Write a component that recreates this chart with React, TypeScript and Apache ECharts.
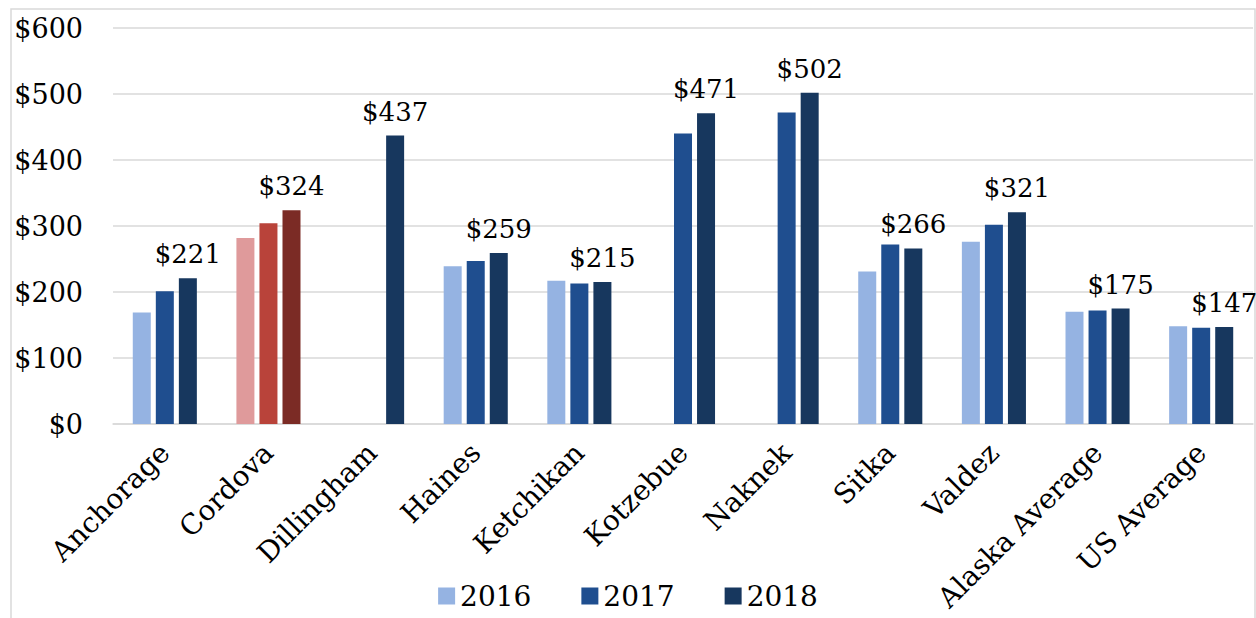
import React, { useEffect, useRef } from "react";
import * as echarts from "echarts";

const categories = ["Anchorage", "Cordova", "Dillingham", "Haines", "Ketchikan", "Kotzebue", "Naknek", "Sitka", "Valdez", "Alaska Average", "US Average"];
const seriesNames = ["2016", "2017", "2018"];
const values2016: (number | null)[] = [169, 282, null, 239, 217, null, null, 231, 276, 170, 148];
const values2017: (number | null)[] = [201, 304, null, 247, 213, 440, 472, 272, 302, 172, 146];
const values2018: (number | null)[] = [221, 324, 437, 259, 215, 471, 502, 266, 321, 175, 147];
const blueColors = ["#95b3e2", "#1f4e8f", "#17375e"];
const cordovaColors = ["#df9a9b", "#b9433a", "#7b2b25"];
const highlightCategory = "Cordova";

const FONT = "DejaVu Serif";

export default function App() {
  const ref = useRef<HTMLDivElement>(null);
  useEffect(() => {
    if (!ref.current) return;
    const chart = echarts.init(ref.current, null, { renderer: "svg" });
    const all = [values2016, values2017, values2018];
    const series = all.map((vals, si) => ({
      name: seriesNames[si],
      type: "bar",
      barWidth: 18,
      barGap: "28%",
      itemStyle: { color: blueColors[si] },
      data: vals.map((v, ci) =>
        v == null
          ? "-"
          : categories[ci] === highlightCategory
          ? { value: v, itemStyle: { color: cordovaColors[si] } }
          : v
      ),
      label: si === 2
        ? {
            show: true,
            position: "top",
            distance: 11,
            formatter: (p: any) => "$" + p.value,
            fontFamily: FONT,
            fontSize: 26,
            color: "#000",
          }
        : { show: false },
    }));
    chart.setOption({
      animation: false,
      backgroundColor: "#fff",
      grid: { left: 113, right: 3, top: 28, bottom: 194, containLabel: false },
      legend: {
        bottom: 3,
        left: "center",
        itemWidth: 17,
        itemHeight: 17,
        itemGap: 50,
        icon: "rect",
        textStyle: { fontFamily: FONT, fontSize: 28, color: "#000" },
        data: seriesNames,
      },
      xAxis: {
        type: "category",
        data: categories,
        axisLine: { show: true, lineStyle: { color: "#d9d9d9", width: 1.5 } },
        axisTick: { show: false },
        axisLabel: {
          rotate: 45,
          interval: 0,
          margin: 24,
          fontFamily: FONT,
          fontSize: 28,
          color: "#000",
        },
      },
      yAxis: {
        type: "value",
        min: 0,
        max: 600,
        interval: 100,
        axisLine: { show: false },
        axisTick: { show: false },
        splitLine: { lineStyle: { color: "#d9d9d9", width: 1.5 } },
        axisLabel: {
          margin: 30,
          formatter: (v: number) => "$" + v,
          fontFamily: FONT,
          fontSize: 27,
          color: "#000",
        },
      },
      graphic: [
        {
          type: "rect",
          shape: { x: 11, y: 9, width: 1244, height: 640 },
          style: { fill: "none", stroke: "#d9d9d9", lineWidth: 1.5 },
          silent: true,
          z: -1,
        },
      ],
      series,
    });
    return () => chart.dispose();
  }, []);
  return <div ref={ref} style={{ position: "absolute", left: 0, top: 0, width: 1256, height: 618 }} />;
}
